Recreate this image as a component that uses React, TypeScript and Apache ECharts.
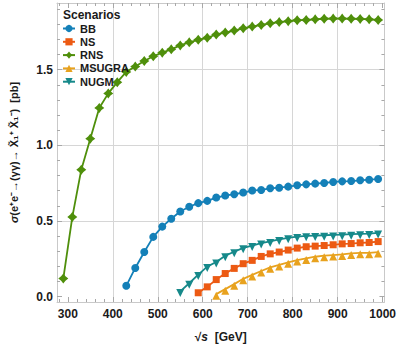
import React, { useEffect, useRef } from "react";
import * as echarts from "echarts";

const seriesNames = ["BB", "NS", "RNS", "MSUGRA", "NUGM"];

const rnsX = [290, 310, 330, 350, 370, 390, 410, 430, 450, 470, 490, 510, 530, 550, 570, 590, 610, 630, 650, 670, 690, 710, 730, 750, 770, 790, 810, 830, 850, 870, 890, 910, 930, 950, 970, 990];
const rnsY = [0.12, 0.526, 0.839, 1.044, 1.247, 1.343, 1.417, 1.485, 1.52, 1.557, 1.588, 1.612, 1.634, 1.66, 1.68, 1.697, 1.71, 1.732, 1.745, 1.758, 1.773, 1.784, 1.795, 1.806, 1.814, 1.82, 1.826, 1.828, 1.832, 1.836, 1.837, 1.837, 1.836, 1.835, 1.832, 1.828];

const bbX = [430, 450, 470, 490, 510, 530, 550, 570, 590, 610, 630, 650, 670, 690, 710, 730, 750, 770, 790, 810, 830, 850, 870, 890, 910, 930, 950, 970, 990];
const bbY = [0.072, 0.19, 0.295, 0.395, 0.463, 0.515, 0.563, 0.594, 0.618, 0.633, 0.655, 0.668, 0.677, 0.688, 0.701, 0.705, 0.716, 0.72, 0.727, 0.736, 0.742, 0.747, 0.751, 0.758, 0.762, 0.764, 0.769, 0.773, 0.777];

const nugmX = [550, 570, 590, 610, 630, 650, 670, 690, 710, 730, 750, 770, 790, 810, 830, 850, 870, 890, 910, 930, 950, 970, 990];
const nugmY = [0.035, 0.089, 0.146, 0.199, 0.229, 0.271, 0.297, 0.323, 0.338, 0.354, 0.365, 0.378, 0.389, 0.397, 0.402, 0.404, 0.406, 0.408, 0.41, 0.413, 0.415, 0.417, 0.421];

const nsX = [590, 610, 630, 650, 670, 690, 710, 730, 750, 770, 790, 810, 830, 850, 870, 890, 910, 930, 950, 970, 990];
const nsY = [0.026, 0.065, 0.113, 0.153, 0.187, 0.218, 0.24, 0.266, 0.283, 0.295, 0.308, 0.321, 0.33, 0.334, 0.338, 0.343, 0.349, 0.351, 0.356, 0.358, 0.364];

const msugraX = [630, 650, 670, 690, 710, 730, 750, 770, 790, 810, 830, 850, 870, 890, 910, 930, 950, 970, 990];
const msugraY = [0.017, 0.05, 0.083, 0.118, 0.144, 0.17, 0.194, 0.21, 0.227, 0.242, 0.253, 0.264, 0.271, 0.275, 0.279, 0.286, 0.29, 0.29, 0.295];

const xMajorTicks = [300, 400, 500, 600, 700, 800, 900, 1000];
const xMinorTicks = [280, 320, 340, 360, 380, 420, 440, 460, 480, 520, 540, 560, 580, 620, 640, 660, 680, 720, 740, 760, 780, 820, 840, 860, 880, 920, 940, 960, 980, 1000];
const yMajorTicks = [0, 0.5, 1.0, 1.5];
const yMinorTicks = [0.1, 0.2, 0.3, 0.4, 0.6, 0.7, 0.8, 0.9, 1.1, 1.2, 1.3, 1.4, 1.6, 1.7, 1.8, 1.9];
const xGridLines = [400, 500, 600, 700, 800, 900];
const yGridLines = [0.5, 1.0, 1.5];

const FONT = "'Liberation Sans', Arial, Helvetica, sans-serif";
const FRAME = "#c9c9c9";
const TICK = "#a8a8a8";
const GRIDC = "#d6d6d6";
const X_MIN = 276;
const X_MAX = 1004;
const Y_MIN = -0.035;
const Y_MAX = 1.94;

const STAR = "path://M0,-10 L4.4,-4.4 L10,0 L4.4,4.4 L0,10 L-4.4,4.4 L-10,0 L-4.4,-4.4 Z";

function pairs(xs: number[], ys: number[]) {
  return xs.map((x, i) => [x, ys[i]]);
}

export default function App() {
  const ref = useRef<HTMLDivElement>(null);
  useEffect(() => {
    if (!ref.current) return;
    const chart = echarts.init(ref.current, undefined, { renderer: "svg" });

    const gridStyle = { color: GRIDC, type: "solid", width: 1 };

    const xAx = (position: string, ticks: number[], len: number, labels: boolean, line: boolean, grid = false) => ({
      type: "value",
      min: X_MIN,
      max: X_MAX,
      position,
      axisLine: { show: line, onZero: false, lineStyle: { color: FRAME, width: 1 } },
      axisTick: { show: !grid, inside: true, length: len, customValues: ticks, lineStyle: { color: TICK, width: 1 } },
      axisLabel: labels
        ? {
            show: true,
            customValues: ticks,
            fontSize: 12,
            fontWeight: "bold",
            color: "#1a1a1a",
            fontFamily: FONT,
            margin: 6,
            formatter: (v: number) => String(v),
          }
        : { show: false },
      splitLine: grid ? { show: true, lineStyle: gridStyle } : { show: false },
    });
    const yAx = (position: string, ticks: number[], len: number, labels: boolean, line: boolean, grid = false) => ({
      type: "value",
      min: Y_MIN,
      max: Y_MAX,
      position,
      axisLine: { show: line, onZero: false, lineStyle: { color: FRAME, width: 1 } },
      axisTick: { show: !grid, inside: true, length: len, customValues: ticks, lineStyle: { color: TICK, width: 1 } },
      axisLabel: labels
        ? {
            show: true,
            customValues: ticks,
            fontSize: 12,
            fontWeight: "bold",
            color: "#1a1a1a",
            fontFamily: FONT,
            margin: 4,
            formatter: (v: number) => v.toFixed(1),
          }
        : { show: false },
      splitLine: grid ? { show: true, lineStyle: gridStyle } : { show: false },
    });

    const x0: any = xAx("bottom", xMajorTicks, 5, true, true);
    x0.name = "√{i|s}  [GeV]";
    x0.nameLocation = "middle";
    x0.nameGap = 29;
    x0.nameTextStyle = {
      fontSize: 12,
      fontWeight: "bold",
      color: "#1a1a1a",
      fontFamily: FONT,
      rich: { i: { fontStyle: "italic", fontSize: 12, fontWeight: "bold", fontFamily: FONT, color: "#1a1a1a" } },
    };
    const y0: any = yAx("left", yMajorTicks, 5, true, true);
    y0.name = "{i|σ}(e⁺e⁻→(γγ)→ X̃₁⁺ X̃₁⁻)  [pb]";
    y0.nameLocation = "middle";
    y0.nameRotate = 90;
    y0.nameGap = 38;
    y0.nameTextStyle = {
      fontSize: 11,
      fontWeight: "bold",
      color: "#1a1a1a",
      fontFamily: FONT,
      rich: { i: { fontStyle: "italic", fontSize: 11, fontWeight: "bold", fontFamily: FONT, color: "#1a1a1a" } },
    };

    const mk = (name: string, xs: number[], ys: number[], color: string, symbol: string, size: number, extra: any = {}) => ({
      type: "line",
      name,
      data: pairs(xs, ys),
      showSymbol: true,
      symbol,
      symbolSize: size,
      lineStyle: { color, width: 1.8 },
      itemStyle: { color },
      z: 3,
      ...extra,
    });

    chart.setOption({
      animation: false,
      textStyle: { fontFamily: FONT },
      title: {
        text: "Scenarios",
        left: 63,
        top: 9,
        padding: 0,
        textStyle: { fontSize: 12, fontWeight: "bold", color: "#1a1a1a", fontFamily: FONT },
      },
      legend: {
        data: seriesNames,
        orient: "vertical",
        left: 62,
        top: 23,
        padding: 0,
        itemWidth: 12,
        itemHeight: 9,
        itemGap: 2.3,
        textStyle: { fontSize: 11, fontWeight: "bold", color: "#1a1a1a", fontFamily: FONT, lineHeight: 11 },
      },
      grid: { left: 57, right: 6, top: 3, bottom: 43.5, containLabel: false },
      xAxis: [
        x0,
        xAx("bottom", xMinorTicks, 3, false, false),
        xAx("top", xMajorTicks, 5, false, true),
        xAx("top", xMinorTicks, 3, false, false),
        xAx("bottom", xGridLines, 0, false, false, true),
      ],
      yAxis: [
        y0,
        yAx("left", yMinorTicks, 3, false, false),
        yAx("right", yMajorTicks, 5, false, true),
        yAx("right", yMinorTicks, 3, false, false),
        yAx("left", yGridLines, 0, false, false, true),
      ],
      series: [
        mk("BB", bbX, bbY, "#1480b8", "circle", 8),
        mk("NS", nsX, nsY, "#ec5a13", "rect", 7),
        mk("RNS", rnsX, rnsY, "#4f8f0b", STAR, 10),
        mk("MSUGRA", msugraX, msugraY, "#e8a21e", "triangle", 8, { symbolOffset: [0, 1.5] }),
        mk("NUGM", nugmX, nugmY, "#16898a", "triangle", 8, { symbolRotate: 180, symbolOffset: [0, 1.5] }),
      ],
    });
    return () => chart.dispose();
  }, []);
  return <div ref={ref} style={{ position: "absolute", left: 0, top: 0, width: 399, height: 348 }} />;
}
